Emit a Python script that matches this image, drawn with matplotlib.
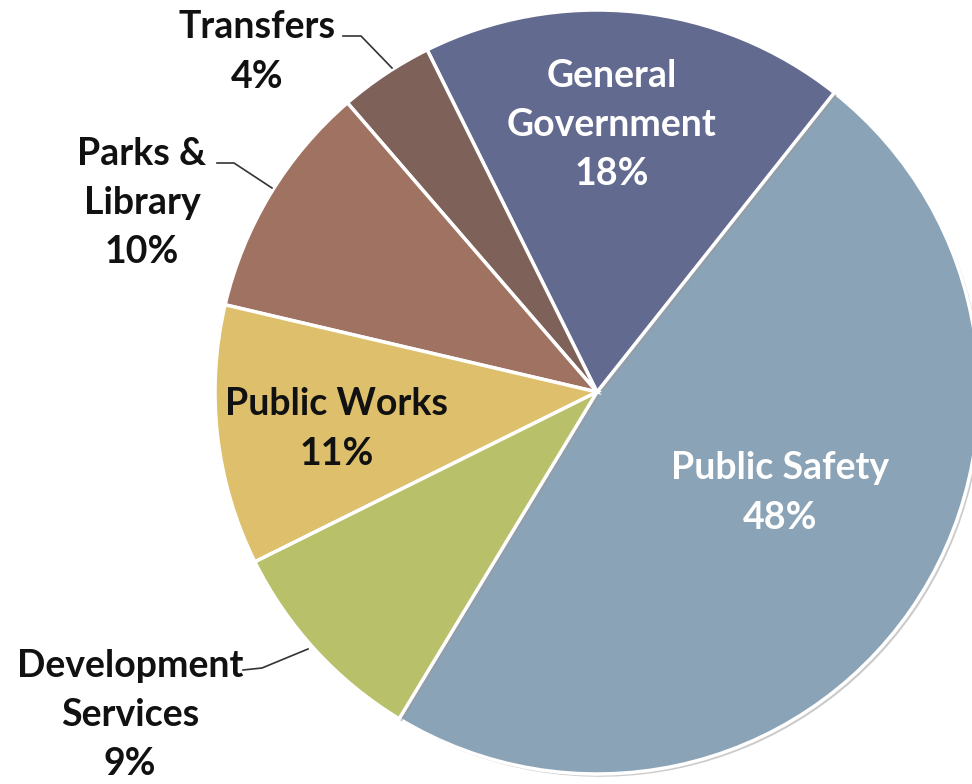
import matplotlib.pyplot as plt
from matplotlib import patheffects

# budget shares by department
departments = ["Public Safety", "General\nGovernment", "Transfers",
               "Parks &\nLibrary", "Public Works", "Development\nServices"]
shares = [48, 18, 4, 10, 11, 9]
colors = ["#8BA3B6", "#636A8F", "#7E6259", "#A07262", "#DDBF6C", "#B8C069"]

W, H = 972, 784
CX, CY, R = 597, 392, 382


def px(x, y):
    """pixel position -> data coords of the unit pie"""
    return (x - CX) / R, (CY - y) / R


plt.rcParams["font.family"] = ["Lato", "DejaVu Sans"]

fig = plt.figure(figsize=(W / 100, H / 100), dpi=100)
ax = fig.add_axes([0, 0, 1, 1])
ax.axis("off")

wedges, _ = ax.pie(
    shares,
    colors=colors,
    startangle=-121.2,
    counterclock=True,
    radius=1,
    wedgeprops=dict(edgecolor="white", linewidth=2.5),
)
for w in wedges:
    w.set_path_effects([
        patheffects.SimplePatchShadow(offset=(2, -2), shadow_rgbFace="#999999", alpha=0.5),
        patheffects.Normal(),
    ])

ax.set_xlim(px(0, 0)[0], px(W, 0)[0])
ax.set_ylim(px(0, H)[1], px(0, 0)[1])

fs = 27
lab = dict(ha="center", va="center", fontsize=fs, fontweight="bold", linespacing=1.55)

# labels drawn inside the wedges
inside = {0: ((780, 493), "white"), 1: ((612, 125), "white"), 4: ((337, 429), "#111111")}
for i, ((x, y), c) in inside.items():
    ax.text(*px(x, y), f"{departments[i]}\n{shares[i]}%", color=c, **lab)

# labels outside with leader lines
outside = {
    2: ((257, 52), [(343, 36), (361, 36), (392, 68)]),
    3: ((142, 203), [(217, 163), (234, 163), (272, 188)]),
    5: ((130, 715), [(243, 670), (262, 668), (308, 649)]),
}
for i, ((x, y), line) in outside.items():
    ax.text(*px(x, y), f"{departments[i]}\n{shares[i]}%", color="#111111", **lab)
    pts = [px(a, b) for a, b in line]
    ax.plot([p[0] for p in pts], [p[1] for p in pts], color="#333333", lw=1.2)

fig.savefig("out.png", dpi=100, facecolor="white")
